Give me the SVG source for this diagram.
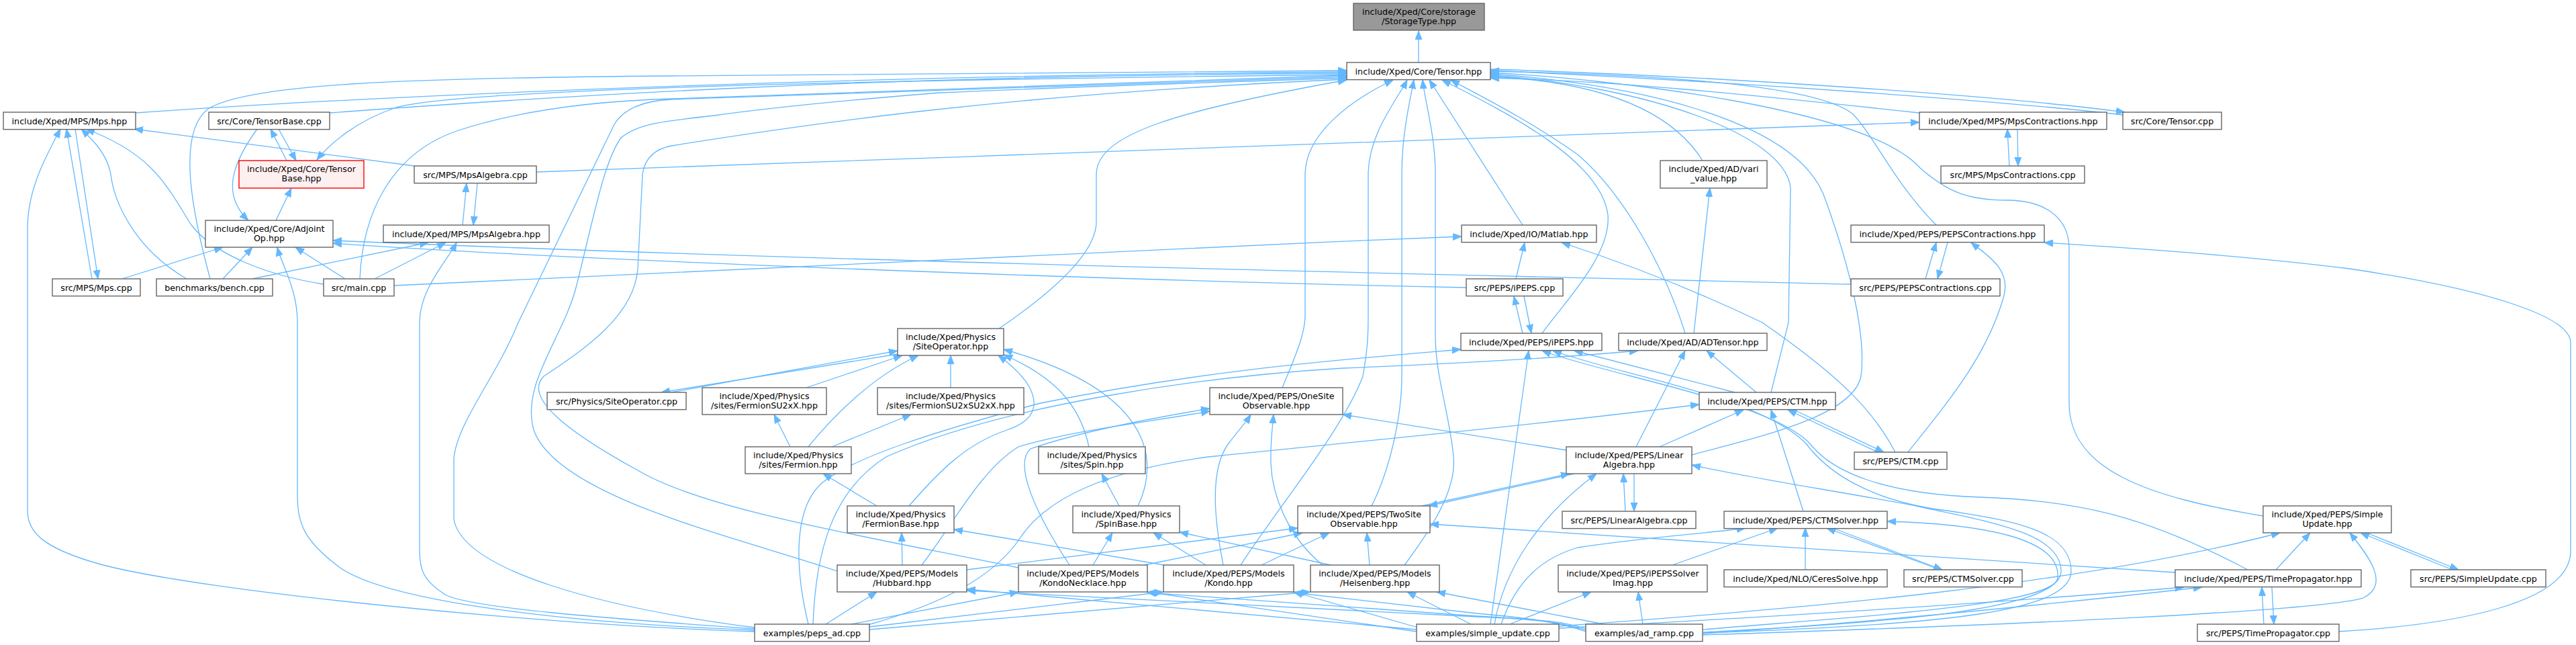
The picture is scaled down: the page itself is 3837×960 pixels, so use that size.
<svg xmlns="http://www.w3.org/2000/svg" width="3837" height="960" viewBox="0 0 3837 960">
<style>
.n rect{fill:#ffffff;stroke:#666666;stroke-width:1.4}
.root rect{fill:#999999;stroke:#666666}
.red rect{fill:#fff0f0;stroke:#ff0000}
text{font-family:"DejaVu Sans","Liberation Sans",sans-serif;font-size:12.7px;text-anchor:middle;fill:#000000}
#edges path{fill:none;stroke:#63b8ff;stroke-width:1.3;marker-end:url(#ah)}
</style>
<defs>
<marker id="ah" markerUnits="userSpaceOnUse" markerWidth="14" markerHeight="11" refX="13" refY="5.5" orient="auto" viewBox="0 0 14 11"><path d="M0,0.5 L13,5.5 L0,10.5 Z" fill="#63b8ff" stroke="#63b8ff" stroke-width="1"/></marker>
</defs>
<rect width="3837" height="960" fill="#ffffff"/>
<g id="edges">
<path d="M2113,93 L2113,46"/>
<path d="M313,415 C290,330 260,200 310,162 C370,125 600,116 1000,113 C1500,109 1800,106 2006,105"/>
<path d="M202,168 C600,140 1300,112 2006,107"/>
<path d="M491,168 C800,145 1300,112 2006,109"/>
<path d="M2006,111 C1400,118 700,130 590,160 C530,180 490,215 472,238"/>
<path d="M536,415 C540,320 580,230 680,195 C780,162 900,150 1000,147 C1400,135 1800,117 2006,112"/>
<path d="M1124,934 C900,905 690,850 676,773 L676,683 C680,630 740,560 772,480 L915,185 C930,160 960,150 1000,148 C1500,132 1850,118 2006,114"/>
<path d="M1247,850 C1100,800 830,740 795,640 C775,570 842,500 860,420 C885,320 900,240 925,205 C950,185 980,181 1064,172 C1150,160 1250,150 1400,138 C1700,125 1900,120 2006,116"/>
<path d="M1517,845 C1300,800 1050,760 950,700 C840,640 780,590 810,560 C870,520 945,470 950,400 L957,260 C960,235 975,222 1000,217 C1200,185 1500,140 2006,118"/>
<path d="M1488,489 C1560,440 1633,380 1633,330 L1633,260 C1633,200 1750,165 2006,119"/>
<path d="M1910,577 C1925,540 1944,500 1944,470 L1944,260 C1944,200 2010,150 2075,119"/>
<path d="M1848,841 C1900,760 2000,640 2030,560 C2037,520 2038,500 2038,470 L2038,260 C2038,200 2080,150 2096,119"/>
<path d="M2043,753 C2070,700 2088,620 2088,560 L2088,260 C2088,200 2100,150 2106,119"/>
<path d="M2092,841 C2130,790 2170,730 2165,680 C2160,620 2138,560 2138,500 L2138,260 C2138,200 2122,150 2119,119"/>
<path d="M2268,335 L2129,119"/>
<path d="M2297,496 C2330,450 2400,380 2395,320 C2385,240 2250,170 2148,119"/>
<path d="M2510,496 C2480,400 2420,290 2350,230 C2280,180 2200,140 2161,119"/>
<path d="M2536,239 C2480,150 2350,120 2220,114"/>
<path d="M2638,584 L2664,480 L2667,280 C2660,200 2450,128 2220,112"/>
<path d="M2520,677 C2620,650 2760,620 2772,560 C2780,500 2756,400 2720,300 C2680,170 2400,122 2220,110"/>
<path d="M3371,768 C3200,740 3082,700 3082,600 L3082,370 C3082,320 3040,298 2990,298 C2930,298 2900,285 2860,250 C2780,160 2400,118 2220,108"/>
<path d="M2884,335 C2820,270 2790,200 2760,170 C2700,120 2400,110 2220,106"/>
<path d="M2859,168 C2600,140 2400,120 2220,116"/>
<path d="M2220,103 C2600,115 3000,145 3165,167"/>
<path d="M3162,171 C3000,152 2600,122 2220,105"/>
<path d="M799,256 C1500,232 2300,200 2859,182"/>
<path d="M2184,428 C1700,418 900,390 496,362"/>
<path d="M2757,423 C2200,410 1200,388 496,358"/>
<path d="M1124,938 C800,925 560,890 500,840 C455,805 443,780 443,740 L443,480 C443,430 420,395 413,368"/>
<path d="M1124,936 C900,920 700,905 663,885 C632,865 625,850 625,820 L625,480 C625,430 665,390 680,361"/>
<path d="M1124,940 C800,930 300,880 150,840 C60,815 41,790 41,760 L41,340 C41,280 70,230 90,192"/>
<path d="M137,415 L99,192"/>
<path d="M112,192 L146,415"/>
<path d="M278,415 C200,370 170,300 165,260 C160,230 140,210 121,192"/>
<path d="M482,423 C400,410 320,380 285,335 C250,280 230,230 128,192"/>
<path d="M617,247 L200,192"/>
<path d="M427,239 L403,192"/>
<path d="M415,192 L441,239"/>
<path d="M383,192 C345,245 330,290 370,328"/>
<path d="M411,328 L434,280"/>
<path d="M182,415 L332,368"/>
<path d="M332,415 L376,368"/>
<path d="M514,415 L440,368"/>
<path d="M376,415 L638,361"/>
<path d="M558,415 L664,361"/>
<path d="M689,335 L695,273"/>
<path d="M711,273 L705,335"/>
<path d="M587,425 C1000,405 1600,375 2177,352"/>
<path d="M2258,415 L2271,361"/>
<path d="M2823,673 C2790,610 2740,560 2625,480 C2500,420 2400,385 2326,361"/>
<path d="M2523,496 L2547,280"/>
<path d="M2868,415 L2884,361"/>
<path d="M2901,361 L2886,415"/>
<path d="M2842,673 C2900,600 2960,530 2985,440 C2995,400 2960,380 2936,361"/>
<path d="M2268,496 L2255,441"/>
<path d="M2270,441 L2281,496"/>
<path d="M2993,247 L2990,192"/>
<path d="M3005,192 L3006,247"/>
<path d="M3484,940 C3650,930 3829,900 3829,820 L3829,510 C3829,470 3700,430 3500,400 C3300,375 3100,365 3045,361"/>
<path d="M1000,584 L1337,522"/>
<path d="M1337,527 L985,584"/>
<path d="M1201,577 L1344,529"/>
<path d="M1416,577 L1416,529"/>
<path d="M1204,665 C1240,620 1300,560 1368,529"/>
<path d="M1354,753 C1400,700 1440,660 1500,640 C1560,620 1550,575 1487,529"/>
<path d="M1622,665 C1610,610 1580,565 1495,528"/>
<path d="M1695,753 C1730,680 1710,580 1495,520"/>
<path d="M1177,665 L1153,617"/>
<path d="M1239,665 L1357,617"/>
<path d="M1306,753 L1226,705"/>
<path d="M1344,841 L1343,793"/>
<path d="M1373,841 C1420,780 1460,700 1517,665 C1600,640 1700,630 1802,612"/>
<path d="M1593,841 C1540,760 1510,690 1535,668 C1600,645 1700,625 1802,608"/>
<path d="M1667,753 L1641,705"/>
<path d="M1628,841 L1657,793"/>
<path d="M1796,841 L1718,793"/>
<path d="M1982,841 L1757,792"/>
<path d="M1734,841 L1421,788"/>
<path d="M1822,841 C1810,780 1800,700 1830,660 C1845,640 1855,630 1863,617"/>
<path d="M1970,841 C1920,800 1895,740 1893,690 C1892,660 1895,640 1897,617"/>
<path d="M2333,670 L2000,617"/>
<path d="M1293,930 C1400,900 1480,860 1520,800 C1560,740 1650,700 1800,680 C2100,650 2350,625 2531,602"/>
<path d="M1204,929 C1185,850 1180,760 1223,720 C1270,680 1400,640 1550,600 C1800,550 2000,535 2176,520"/>
<path d="M1211,929 C1215,820 1240,730 1320,680 C1500,600 1800,560 2000,548 C2200,540 2350,530 2440,522"/>
<path d="M1440,848 L1933,786"/>
<path d="M1705,841 L1940,793"/>
<path d="M1879,841 L1980,793"/>
<path d="M2040,841 L2036,793"/>
<path d="M2345,705 L2128,753"/>
<path d="M2118,753 L2338,705"/>
<path d="M3240,852 C3000,835 2600,810 2130,780"/>
<path d="M3348,848 C3200,770 3100,745 2950,740 C2800,735 2730,700 2700,665 C2650,600 2400,560 2297,522"/>
<path d="M2537,942 C2900,930 3085,910 3085,850 C3085,790 3000,775 2900,760 C2780,745 2720,700 2690,660 C2620,590 2420,560 2313,522"/>
<path d="M2584,584 L2345,522"/>
<path d="M2437,665 L2510,522"/>
<path d="M2616,584 L2542,522"/>
<path d="M2472,665 L2597,610"/>
<path d="M2686,761 L2638,610"/>
<path d="M2797,673 L2663,610"/>
<path d="M2672,610 L2806,673"/>
<path d="M2421,761 L2418,705"/>
<path d="M2434,705 L2434,761"/>
<path d="M2226,929 C2240,850 2290,770 2378,705"/>
<path d="M2537,941 C2850,925 3070,905 3070,850 C3070,790 2950,775 2850,752 C2700,725 2600,710 2520,692"/>
<path d="M2220,929 L2277,522"/>
<path d="M2236,929 C2260,860 2300,830 2350,815 C2450,800 2530,795 2600,786"/>
<path d="M2491,841 L2648,786"/>
<path d="M2689,848 L2689,786"/>
<path d="M2890,848 L2721,786"/>
<path d="M2730,786 L2893,848"/>
<path d="M2537,937 C2800,915 3060,900 3065,860 C3070,800 2950,780 2811,776"/>
<path d="M2249,929 L2370,881"/>
<path d="M2447,929 L2440,881"/>
<path d="M2191,929 L2096,881"/>
<path d="M2389,929 L2140,881"/>
<path d="M2110,937 L1440,877"/>
<path d="M2110,940 L1709,881"/>
<path d="M2112,934 L1927,881"/>
<path d="M2362,936 C2330,925 2300,922 2200,918 L1440,879"/>
<path d="M2362,938 C2330,927 2290,922 2200,917 L1709,882"/>
<path d="M2362,940 C2330,928 2290,921 2200,913 L1927,882"/>
<path d="M1230,929 L1306,881"/>
<path d="M1268,929 L1517,881"/>
<path d="M1295,933 L1733,881"/>
<path d="M1295,937 L1952,881"/>
<path d="M3372,929 L3369,874"/>
<path d="M3384,874 L3387,929"/>
<path d="M3390,848 L3441,793"/>
<path d="M3653,848 L3516,793"/>
<path d="M3525,793 L3662,848"/>
<path d="M2322,932 C2700,905 3100,870 3396,793"/>
<path d="M2537,945 C3000,930 3450,910 3520,890 C3560,870 3530,830 3500,793"/>
<path d="M2322,935 C2700,915 3000,895 3253,874"/>
<path d="M2537,943 C2800,925 3050,900 3280,874"/>
</g>
<g id="nodes">
<g id="n1" class="n root"><rect x="2016" y="5" width="195" height="40"/><text x="2113.5" y="21.5">include/Xped/Core/storage</text><text x="2113.5" y="36">/StorageType.hpp</text></g>
<g id="n2" class="n"><rect x="2006" y="93" width="214" height="25.6"/><text x="2113" y="110.5">include/Xped/Core/Tensor.hpp</text></g>
<g id="n3" class="n"><rect x="5" y="167" width="197" height="25.6"/><text x="103.5" y="184.5">include/Xped/MPS/Mps.hpp</text></g>
<g id="n4" class="n"><rect x="311" y="167" width="180" height="25.6"/><text x="401" y="184.5">src/Core/TensorBase.cpp</text></g>
<g id="n5" class="n"><rect x="2859" y="167" width="279" height="25.6"/><text x="2998.5" y="184.5">include/Xped/MPS/MpsContractions.hpp</text></g>
<g id="n6" class="n"><rect x="3162" y="167" width="147" height="25.6"/><text x="3235.5" y="184.5">src/Core/Tensor.cpp</text></g>
<g id="n7" class="n red"><rect x="356" y="239" width="186" height="41"/><text x="449" y="255.5">include/Xped/Core/Tensor</text><text x="449" y="270">Base.hpp</text></g>
<g id="n8" class="n"><rect x="617" y="247" width="182" height="25.6"/><text x="708" y="264.5">src/MPS/MpsAlgebra.cpp</text></g>
<g id="n9" class="n"><rect x="2473" y="239" width="159" height="41"/><text x="2552.5" y="255.5">include/Xped/AD/vari</text><text x="2552.5" y="270">_value.hpp</text></g>
<g id="n10" class="n"><rect x="2891" y="247" width="214" height="25.6"/><text x="2998" y="264.5">src/MPS/MpsContractions.cpp</text></g>
<g id="n11" class="n"><rect x="306" y="328" width="190" height="40"/><text x="401" y="344.5">include/Xped/Core/Adjoint</text><text x="401" y="359">Op.hpp</text></g>
<g id="n12" class="n"><rect x="571" y="335" width="247" height="25.6"/><text x="694.5" y="352.5">include/Xped/MPS/MpsAlgebra.hpp</text></g>
<g id="n13" class="n"><rect x="2177" y="335" width="201" height="25.6"/><text x="2277.5" y="352.5">include/Xped/IO/Matlab.hpp</text></g>
<g id="n14" class="n"><rect x="2757" y="335" width="288" height="25.6"/><text x="2901" y="352.5">include/Xped/PEPS/PEPSContractions.hpp</text></g>
<g id="n15" class="n"><rect x="78" y="415" width="131" height="25.6"/><text x="143.5" y="432.5">src/MPS/Mps.cpp</text></g>
<g id="n16" class="n"><rect x="233" y="415" width="173" height="25.6"/><text x="319.5" y="432.5">benchmarks/bench.cpp</text></g>
<g id="n17" class="n"><rect x="482" y="415" width="105" height="25.6"/><text x="534.5" y="432.5">src/main.cpp</text></g>
<g id="n18" class="n"><rect x="2184" y="415" width="144" height="25.6"/><text x="2256" y="432.5">src/PEPS/iPEPS.cpp</text></g>
<g id="n19" class="n"><rect x="2757" y="415" width="222" height="25.6"/><text x="2868" y="432.5">src/PEPS/PEPSContractions.cpp</text></g>
<g id="n20" class="n"><rect x="1337" y="489" width="158" height="40"/><text x="1416" y="505.5">include/Xped/Physics</text><text x="1416" y="520">/SiteOperator.hpp</text></g>
<g id="n21" class="n"><rect x="2176" y="496" width="210" height="25.6"/><text x="2281" y="513.5">include/Xped/PEPS/iPEPS.hpp</text></g>
<g id="n22" class="n"><rect x="2411" y="496" width="221" height="25.6"/><text x="2521.5" y="513.5">include/Xped/AD/ADTensor.hpp</text></g>
<g id="n23" class="n"><rect x="815" y="584" width="207" height="25.6"/><text x="918.5" y="601.5">src/Physics/SiteOperator.cpp</text></g>
<g id="n24" class="n"><rect x="1046" y="577" width="185" height="40"/><text x="1138.5" y="593.5">include/Xped/Physics</text><text x="1138.5" y="608">/sites/FermionSU2xX.hpp</text></g>
<g id="n25" class="n"><rect x="1307" y="577" width="218" height="40"/><text x="1416" y="593.5">include/Xped/Physics</text><text x="1416" y="608">/sites/FermionSU2xSU2xX.hpp</text></g>
<g id="n26" class="n"><rect x="1802" y="577" width="198" height="40"/><text x="1901" y="593.5">include/Xped/PEPS/OneSite</text><text x="1901" y="608">Observable.hpp</text></g>
<g id="n27" class="n"><rect x="2531" y="584" width="203" height="25.6"/><text x="2632.5" y="601.5">include/Xped/PEPS/CTM.hpp</text></g>
<g id="n28" class="n"><rect x="1110" y="665" width="158" height="40"/><text x="1189" y="681.5">include/Xped/Physics</text><text x="1189" y="696">/sites/Fermion.hpp</text></g>
<g id="n29" class="n"><rect x="1547" y="665" width="159" height="40"/><text x="1626.5" y="681.5">include/Xped/Physics</text><text x="1626.5" y="696">/sites/Spin.hpp</text></g>
<g id="n30" class="n"><rect x="2333" y="665" width="187" height="40"/><text x="2426.5" y="681.5">include/Xped/PEPS/Linear</text><text x="2426.5" y="696">Algebra.hpp</text></g>
<g id="n31" class="n"><rect x="2762" y="673" width="138" height="25.6"/><text x="2831" y="690.5">src/PEPS/CTM.cpp</text></g>
<g id="n32" class="n"><rect x="1262" y="753" width="159" height="40"/><text x="1341.5" y="769.5">include/Xped/Physics</text><text x="1341.5" y="784">/FermionBase.hpp</text></g>
<g id="n33" class="n"><rect x="1598" y="753" width="159" height="40"/><text x="1677.5" y="769.5">include/Xped/Physics</text><text x="1677.5" y="784">/SpinBase.hpp</text></g>
<g id="n34" class="n"><rect x="1933" y="753" width="197" height="40"/><text x="2031.5" y="769.5">include/Xped/PEPS/TwoSite</text><text x="2031.5" y="784">Observable.hpp</text></g>
<g id="n35" class="n"><rect x="2327" y="761" width="199" height="25.6"/><text x="2426.5" y="778.5">src/PEPS/LinearAlgebra.cpp</text></g>
<g id="n36" class="n"><rect x="2568" y="761" width="243" height="25.6"/><text x="2689.5" y="778.5">include/Xped/PEPS/CTMSolver.hpp</text></g>
<g id="n37" class="n"><rect x="3371" y="753" width="191" height="40"/><text x="3466.5" y="769.5">include/Xped/PEPS/Simple</text><text x="3466.5" y="784">Update.hpp</text></g>
<g id="n38" class="n"><rect x="1247" y="841" width="193" height="40"/><text x="1343.5" y="857.5">include/Xped/PEPS/Models</text><text x="1343.5" y="872">/Hubbard.hpp</text></g>
<g id="n39" class="n"><rect x="1517" y="841" width="192" height="40"/><text x="1613" y="857.5">include/Xped/PEPS/Models</text><text x="1613" y="872">/KondoNecklace.hpp</text></g>
<g id="n40" class="n"><rect x="1733" y="841" width="194" height="40"/><text x="1830" y="857.5">include/Xped/PEPS/Models</text><text x="1830" y="872">/Kondo.hpp</text></g>
<g id="n41" class="n"><rect x="1952" y="841" width="192" height="40"/><text x="2048" y="857.5">include/Xped/PEPS/Models</text><text x="2048" y="872">/Heisenberg.hpp</text></g>
<g id="n42" class="n"><rect x="2321" y="841" width="222" height="40"/><text x="2432" y="857.5">include/Xped/PEPS/iPEPSSolver</text><text x="2432" y="872">Imag.hpp</text></g>
<g id="n43" class="n"><rect x="2568" y="848" width="243" height="25.6"/><text x="2689.5" y="865.5">include/Xped/NLO/CeresSolve.hpp</text></g>
<g id="n44" class="n"><rect x="2836" y="848" width="176" height="25.6"/><text x="2924" y="865.5">src/PEPS/CTMSolver.cpp</text></g>
<g id="n45" class="n"><rect x="3240" y="848" width="277" height="25.6"/><text x="3378.5" y="865.5">include/Xped/PEPS/TimePropagator.hpp</text></g>
<g id="n46" class="n"><rect x="3591" y="848" width="201" height="25.6"/><text x="3691.5" y="865.5">src/PEPS/SimpleUpdate.cpp</text></g>
<g id="n47" class="n"><rect x="1124" y="929" width="171" height="25.6"/><text x="1209.5" y="946.5">examples/peps_ad.cpp</text></g>
<g id="n48" class="n"><rect x="2110" y="929" width="212" height="25.6"/><text x="2216" y="946.5">examples/simple_update.cpp</text></g>
<g id="n49" class="n"><rect x="2362" y="929" width="174" height="25.6"/><text x="2449" y="946.5">examples/ad_ramp.cpp</text></g>
<g id="n50" class="n"><rect x="3273" y="929" width="211" height="25.6"/><text x="3378.5" y="946.5">src/PEPS/TimePropagator.cpp</text></g>
</g>
</svg>
